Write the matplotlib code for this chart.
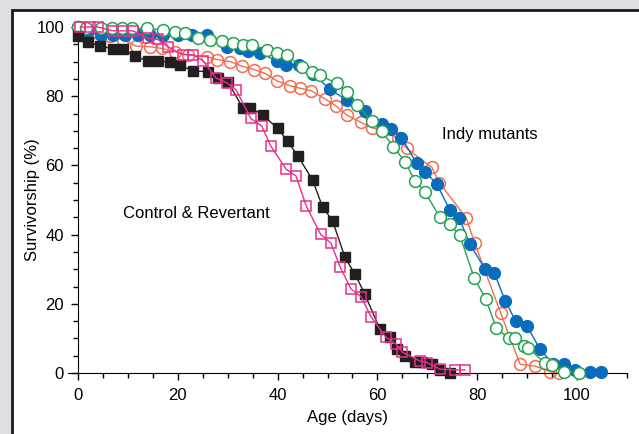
import matplotlib.pyplot as plt
from matplotlib.patches import Rectangle
from matplotlib.ticker import MultipleLocator

plt.rcParams['font.family'] = ['Liberation Sans', 'DejaVu Sans']

# control (black filled squares)
ctrl_days = [0, 2, 4.5, 7, 9, 11.5, 14, 16, 18.5, 20.5, 23, 26, 28, 30, 33, 34.5, 37, 40, 42, 44,
             47, 49, 51, 53.5, 55.5, 57.5, 60.5, 62.5, 64, 65.5, 67.5, 69, 71, 72.5, 74.5]
ctrl_surv = [97.5, 95.6, 94.6, 93.6, 93.6, 91.5, 90.2, 90.2, 89.8, 89, 87.3, 87.1, 85.2, 84.2, 76.7, 76.7,
             74.6, 70.7, 67, 62.8, 55.8, 48, 44, 33.4, 28.6, 22.7, 12.6, 10.5, 7, 5, 3.3, 3.3, 2.6, 1, 0]

# revertant (magenta open squares)
rev_days = [0.5, 2.5, 4, 7, 9, 11, 14, 16, 18, 21, 23, 25, 27.7, 29.8, 31.7, 34.6, 36.8, 38.6, 41.7,
            43.7, 45.7, 48.6, 50.7, 52.5, 54.7, 56.7, 58.7, 61.7, 63.7, 65, 68.5, 70, 72.5, 75.5, 77.5]
rev_surv = [100, 100, 100, 98.9, 98.9, 98.9, 96.7, 96.4, 94.3, 92, 92, 90.3, 85.2, 83.9, 81.8, 73.6,
            71.4, 65.7, 58.9, 56.9, 48.4, 40.1, 37.5, 30.7, 24.3, 22.1, 16.3, 10.3, 8.4, 6, 3.5, 3,
            1.1, 0.9, 0.9]

# Indy mutants
blue_days = [0, 2, 4.7, 7, 9.5, 12, 14.4, 17, 20, 22.8, 25.8, 29.8, 32.5, 34, 36.5, 39.8, 41.7, 44.2,
             47, 50.5, 53.8, 57.5, 60.9, 62.8, 64.8, 67.9, 69.5, 71.9, 74.5, 76.4, 78.5, 81.6, 83.4,
             85.6, 87.7, 90, 92.6, 95.2, 97.4, 99.6, 102.6, 104.7]
blue_surv = [100, 98.8, 97.8, 97.8, 97.8, 97.8, 97.8, 97.8, 97.8, 97.8, 97.8, 94.3, 93.8, 93.2, 92.5,
             90.2, 89, 89, 86.5, 82, 78.9, 75.7, 72, 70.5, 68, 60.6, 58.2, 54.6, 47.1, 44.8, 37.2, 30,
             29, 20.8, 15, 13.5, 6.8, 2.6, 2.6, 0.9, 0.4, 0.2]

green_days = [0, 1.7, 4.7, 6.8, 8.8, 10.8, 13.8, 17.1, 19.4, 21.4, 24.1, 26.5, 28.8, 31.1, 33.1, 34.8,
              37.8, 39.8, 41.8, 44.8, 46.8, 48.5, 51.8, 53.8, 55.9, 58.9, 60.9, 63.2, 65.5, 67.5, 69.5,
              72.5, 74.5, 76.5, 79.4, 81.7, 83.8, 86.3, 87.6, 89.4, 90.2, 93.6, 94.9, 97.3, 100.3]
green_surv = [100, 99.8, 99.6, 99.6, 99.6, 99.6, 99.6, 99.1, 98.6, 98.2, 96.7, 96.2, 96, 95.3, 94.9,
              94.8, 93.4, 92.6, 91.9, 88.5, 87.1, 86.1, 83.7, 81.3, 77.5, 72.7, 69.8, 65.4, 61.1, 55.6,
              52.4, 45, 43, 39.8, 27.4, 21.4, 13, 10, 10, 7.8, 7.3, 2.8, 2.3, 0.4, 0]

orange_days = [0, 2, 4, 6.5, 9, 11.6, 14.4, 16.8, 19.4, 22.1, 25.8, 27.8, 30.5, 32.8, 35.3, 37.5, 39.9,
               42.5, 44.5, 46.7, 49.5, 51.6, 53.8, 56.7, 58.9, 61, 64.2, 65.9, 70.9, 72.4, 77.8, 79.5,
               84.7, 88.6, 91.6, 94.6, 96.3]
orange_surv = [100, 99, 98.3, 97.4, 96.3, 94.5, 94.3, 93.8, 92.9, 91.9, 91.4, 90.6, 90, 88.7, 87.7, 86.6,
               84.4, 83, 82.3, 81.6, 79.2, 77.3, 74.6, 72.4, 70.9, 70, 67.8, 64.9, 59.4, 55, 44.8, 37.5,
               17.3, 2.5, 2, 0.4, 0]

fig = plt.figure(figsize=(6.39, 4.34), dpi=100, facecolor='#dedfe3')
fig.patches.append(Rectangle((12 / 639, -0.1), 1.1, 1.1 - 10 / 434, transform=fig.transFigure,
                             facecolor='white', edgecolor='#1a1a1a', linewidth=2, zorder=-5))
ax = fig.add_axes([68 / 639, 61 / 434, 559 / 639, 346 / 434])
ax.set_zorder(1)
ax.patch.set_alpha(0)

ax.plot(orange_days, orange_surv, '-o', color='#f26d4f', mfc='none', mec='#f26d4f', ms=8.5, mew=1.1,
        lw=1, clip_on=False, zorder=2)
ax.plot(blue_days, blue_surv, '-o', color='#0a6cbc', mec='#0a6cbc', ms=8.5, lw=1, clip_on=False, zorder=3)
ax.plot(green_days, green_surv, '-o', color='#22a352', mfc='white', mec='#22a352', ms=8.5, mew=1.1,
        lw=1, clip_on=False, zorder=4)
ax.plot(ctrl_days, ctrl_surv, '-s', color='#231f20', ms=7, lw=1, clip_on=False, zorder=5)
ax.plot(rev_days, rev_surv, '-s', color='#e8308a', mfc='none', mec='#e8308a', ms=7, mew=1.1,
        lw=1, clip_on=False, zorder=6)

ax.text(82.6, 68.8, 'Indy mutants', fontsize=12, ha='center', va='center')
ax.text(23.8, 46.2, 'Control & Revertant', fontsize=12, ha='center', va='center')

ax.set_xlim(-2, 110)
ax.set_ylim(0, 100)
ax.spines['top'].set_visible(False)
ax.spines['right'].set_visible(False)
ax.spines['left'].set_position(('data', 0))
ax.spines['left'].set_bounds(0, 100)
ax.set_xticks([0, 20, 40, 60, 80, 100])
ax.set_yticks([0, 20, 40, 60, 80, 100])
ax.xaxis.set_minor_locator(MultipleLocator(5))
ax.yaxis.set_minor_locator(MultipleLocator(5))
ax.tick_params(which='major', length=5, width=1, labelsize=12)
ax.tick_params(axis='x', which='major', pad=6)
ax.tick_params(axis='y', which='major', pad=5)
ax.tick_params(which='minor', length=3.5, width=1)
ax.set_xlabel('Age (days)', fontsize=12, labelpad=5)
ax.set_ylabel('Survivorship (%)', fontsize=12)
ax.yaxis.set_label_coords(-0.05, 0.5)

plt.savefig('out.png', dpi=100, facecolor=fig.get_facecolor())
